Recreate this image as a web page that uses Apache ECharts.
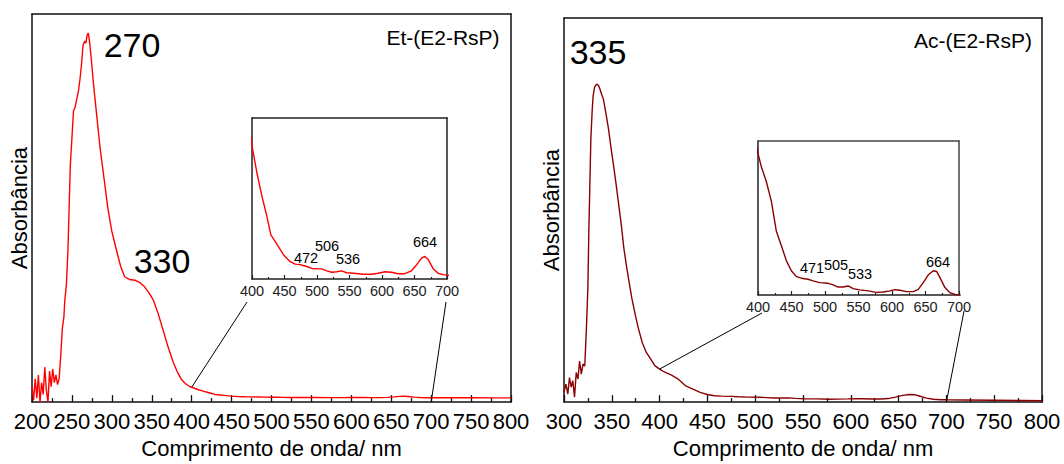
<!DOCTYPE html>
<html><head><meta charset="utf-8">
<script src="https://cdn.jsdelivr.net/npm/echarts@6/dist/echarts.min.js"></script>
<style>html,body{margin:0;padding:0;background:#fff}#c{width:1064px;height:464px}</style>
</head><body><div id="c"></div>
<script>
// ---- data ----
const etWl = [200,202,204,206,208,210,212,214,216,218,220,222,224,226,228,230,232,234,236,238,240,241,243,245,246.5,248,250,252,254,256,258,260,262,264,266,267.5,269,270.5,272,274,277,281,285,290,295,300,306,311,316,322,329,335,341,347,352,358,364,370,377,382,387,392,396,
  400,407.7,415.3,423,429,435.8,440.9,448.6,458.8,466.4,474.1,484.3,492,502.2,507.3,515,522.7,530.3,538,545.7,556,571.2,584,594.2,604.4,614.7,624.9,635.1,645.3,653,660.6,665.8,670.9,678.5,686.2,693.9,700,720,750,780,800];
const etAbs = [0.04,0.005,0.06,0.01,0.07,0.0,0.05,0.02,0.09,0.03,0.0,0.08,0.04,0.085,0.05,0.07,0.045,0.06,0.12,0.19,0.22,0.26,0.30,0.39,0.50,0.61,0.68,0.75,0.76,0.78,0.80,0.83,0.87,0.92,0.93,0.925,0.945,0.951,0.93,0.89,0.82,0.74,0.66,0.58,0.50,0.44,0.39,0.35,0.323,0.316,0.314,0.308,0.297,0.28,0.263,0.228,0.187,0.145,0.102,0.078,0.059,0.048,0.042,
  0.0382,0.0325,0.0277,0.0235,0.0197,0.0183,0.0172,0.0155,0.0141,0.0136,0.0135,0.0131,0.0127,0.0126,0.0126,0.0122,0.0119,0.0120,0.0122,0.0118,0.0117,0.0115,0.0115,0.0117,0.0120,0.0119,0.0116,0.0116,0.0122,0.0134,0.0148,0.0152,0.0146,0.0127,0.0117,0.0114,0.0113,0.0112,0.0111,0.0110,0.0110];

const acWl = [300,302,304,305.7,307.5,309.2,311,312.8,314.6,316.3,318.1,319.9,321.7,323.4,325,326,327,328.1,329.5,330.5,332,334.1,336,337.6,339.5,341.2,344,346.5,349,351.8,354.5,357.2,360,362.5,365,367.8,371,374.9,378,382,386,390.9,395,
  400,405,412.5,419.9,427.4,434.9,442.4,449.8,457.3,464.8,474.8,482.2,492.2,504.7,512.1,519.6,527.1,534.6,542,552,564.5,576.9,586.9,596.8,604.3,611.8,621.8,631.8,639.2,646.7,654.2,661.6,666.6,671.6,679,686.5,694,700,720,750,780,800];
const acAbs = [0.026,0.047,0.021,0.064,0.039,0.056,0.013,0.077,0.060,0.107,0.073,0.099,0.094,0.189,0.30,0.446,0.56,0.686,0.76,0.798,0.82,0.828,0.825,0.815,0.80,0.789,0.75,0.712,0.665,0.617,0.567,0.515,0.46,0.403,0.36,0.317,0.27,0.223,0.19,0.154,0.13,0.111,0.095,
  0.0860,0.0784,0.0700,0.0590,0.0420,0.0338,0.0253,0.0197,0.0164,0.0155,0.0149,0.0140,0.0130,0.0126,0.0117,0.0105,0.0105,0.0111,0.0096,0.0089,0.0083,0.0075,0.0077,0.0083,0.0090,0.0087,0.0079,0.0079,0.0092,0.0130,0.0174,0.0197,0.0193,0.0158,0.0102,0.0073,0.0063,0.0060,0.0055,0.0048,0.0040,0.0035];

const etRange = [200, 800];
const acRange = [300, 800];
const insetRange = [400, 700];
const etInsetY = [0.0105, 0.044];
const acInsetY = [0.006, 0.093];
const etTitle = 'Et-(E2-RsP)';
const acTitle = 'Ac-(E2-RsP)';
const etPeaks = ['270', '330'];
const acPeaks = ['335'];
const etInsetPeaks = ['472', '506', '536', '664'];
const acInsetPeaks = ['471', '505', '533', '664'];
const xName = 'Comprimento de onda/ nm';
const yName = 'Absorbância';

// ---- chart ----
const FAM = 'Liberation Sans';
const CSSFONT = "'Liberation Sans', Arial, sans-serif";
const zip = (a, b) => a.map((v, i) => [v, b[i]]);
const chart = echarts.init(document.getElementById('c'), null, {renderer: 'svg'});

function mainX(gi, r) {
  return {type:'value', gridIndex:gi, min:r[0], max:r[1], interval:50,
    axisLine:{show:true, onZero:false, lineStyle:{color:'#111', width:1.5}},
    axisTick:{show:true, inside:true, length:7, lineStyle:{color:'#111', width:1.3}},
    minorTick:{show:true, splitNumber:2, length:4, lineStyle:{color:'#111', width:1.3}},
    splitLine:{show:false}, minorSplitLine:{show:false},
    axisLabel:{fontSize:22, color:'#000', margin:8, fontFamily:FAM, showMinLabel:true, showMaxLabel:true},
    name:xName, nameLocation:'middle', nameGap:33,
    nameTextStyle:{fontSize:22, color:'#000', fontFamily:FAM}};
}
function mainY(gi) {
  return {type:'value', gridIndex:gi, min:0, max:1,
    axisLine:{show:true, onZero:false, lineStyle:{color:'#111', width:1.5}},
    axisTick:{show:false}, axisLabel:{show:false}, splitLine:{show:false},
    name:yName, nameLocation:'middle', nameGap:2,
    nameTextStyle:{fontSize:22, color:'#000', fontFamily:FAM}};
}
function insetX(gi) {
  return {type:'value', gridIndex:gi, min:insetRange[0], max:insetRange[1], interval:50,
    axisLine:{show:true, onZero:false, lineStyle:{color:'#222', width:1.5}},
    axisTick:{show:true, inside:true, length:4, lineStyle:{color:'#222', width:1.2}},
    minorTick:{show:true, splitNumber:2, length:2, lineStyle:{color:'#222', width:1.2}},
    splitLine:{show:false}, minorSplitLine:{show:false},
    axisLabel:{fontSize:14.5, color:'#222', margin:4, fontFamily:FAM, showMinLabel:true, showMaxLabel:true}};
}
function insetY(gi, r) {
  return {type:'value', gridIndex:gi, min:r[0], max:r[1],
    axisLine:{show:true, onZero:false, lineStyle:{color:'#222', width:1.5}},
    axisTick:{show:false}, axisLabel:{show:false}, splitLine:{show:false}};
}
// plain frame edges (top / right) for each box
function edgeX(gi, color) {
  return {type:'value', gridIndex:gi, position:'top', min:0, max:1,
    axisLine:{show:true, onZero:false, lineStyle:{color:color, width:1.5}},
    axisTick:{show:false}, axisLabel:{show:false}, splitLine:{show:false}};
}
function edgeY(gi, color) {
  return {type:'value', gridIndex:gi, position:'right', min:0, max:1,
    axisLine:{show:true, onZero:false, lineStyle:{color:color, width:1.5}},
    axisTick:{show:false}, axisLabel:{show:false}, splitLine:{show:false}};
}
function ser(xi, data, color, z) {
  return {type:'line', xAxisIndex:xi, yAxisIndex:xi, data:data, showSymbol:false, symbol:'none',
    clip:true, z:z, lineStyle:{color:color, width:1.4}, animation:false};
}

const etData = zip(etWl, etAbs);
const acData = zip(acWl, acAbs);
const RED = '#ff0000', DARK = '#8b0000';

chart.setOption({
  animation:false,
  backgroundColor:'#fff',
  grid:[
    {left:32, top:14, width:479, height:393},
    {left:564, top:18, width:478, height:389},
    {left:252, top:118, width:195, height:161},
    {left:758, top:141, width:201, height:154}
  ],
  xAxis:[mainX(0, etRange), mainX(1, acRange), insetX(2), insetX(3),
         edgeX(0,'#111'), edgeX(1,'#111'), edgeX(2,'#222'), edgeX(3,'#444')],
  yAxis:[mainY(0), mainY(1), insetY(2, etInsetY), insetY(3, acInsetY),
         edgeY(0,'#111'), edgeY(1,'#111'), edgeY(2,'#222'), edgeY(3,'#444')],
  series:[ser(0, etData, RED, 2), ser(1, acData, DARK, 2), ser(2, etData, RED, 5), ser(3, acData, DARK, 5)]
});

// connector lines and annotations
const v400et = etAbs[etWl.indexOf(400)];
const v400ac = acAbs[acWl.indexOf(400)];
const pEt400 = chart.convertToPixel({xAxisIndex:0, yAxisIndex:0}, [400, v400et]);
const pEt700 = chart.convertToPixel({xAxisIndex:0, yAxisIndex:0}, [700, 0]);
const pAc400 = chart.convertToPixel({xAxisIndex:1, yAxisIndex:1}, [400, v400ac]);
const pAc700 = chart.convertToPixel({xAxisIndex:1, yAxisIndex:1}, [700, 0]);

function txt(s, cx, cy, size) {
  return {type:'text', x:cx, y:cy, z:10, style:{text:s, fill:'#000', font: size + 'px ' + CSSFONT, align:'center', verticalAlign:'middle'}};
}
function seg(x1, y1, x2, y2) {
  return {type:'line', z:10, shape:{x1:x1, y1:y1, x2:x2, y2:y2}, style:{stroke:'#000', lineWidth:1}};
}
const g = [
  seg(247, 302, pEt400[0], pEt400[1]),
  seg(446, 302, pEt700[0], pEt700[1]),
  seg(762, 313, pAc400[0], pAc400[1]),
  seg(964, 311, pAc700[0], pAc700[1]),
  txt(etPeaks[0], 132, 45, 34),
  txt(etPeaks[1], 162, 261, 34),
  txt(etTitle, 443, 37, 21),
  txt(acPeaks[0], 598, 52, 34),
  txt(acTitle, 973, 40, 21),
  txt(etInsetPeaks[0], 306, 258, 14.5),
  txt(etInsetPeaks[1], 327, 246, 14.5),
  txt(etInsetPeaks[2], 348, 259, 14.5),
  txt(etInsetPeaks[3], 425, 242, 14.5),
  txt(acInsetPeaks[0], 812, 268, 14.5),
  txt(acInsetPeaks[1], 836, 265, 14.5),
  txt(acInsetPeaks[2], 860, 274, 14.5),
  txt(acInsetPeaks[3], 938, 262, 14.5)
];
chart.setOption({graphic: g});
</script></body></html>
